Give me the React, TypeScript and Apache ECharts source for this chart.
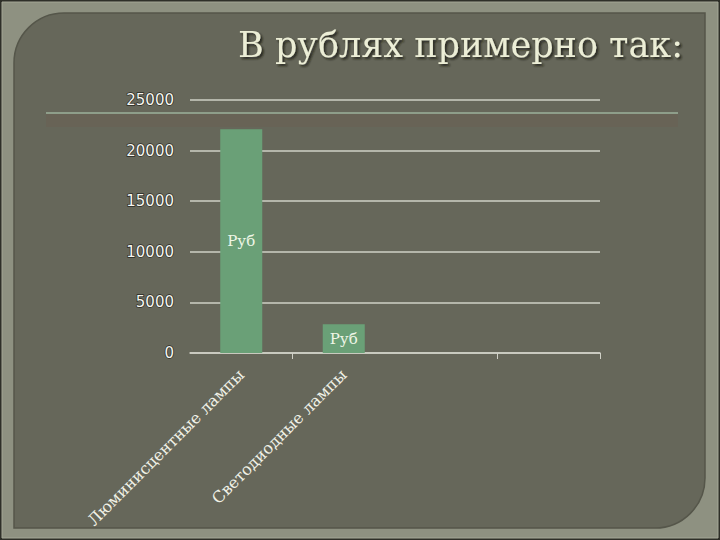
import React, { useEffect, useRef } from "react";
import * as echarts from "echarts";

const titleText = "В рублях примерно так:";
const categories = ["Люминисцентные лампы", "Светодиодные лампы", "", ""];
const values = [22100, 2850, null, null];
const barLabel = "Руб";
const yMin = 0;
const yMax = 25000;
const yStep = 5000;

export default function App() {
  const ref = useRef<HTMLDivElement>(null);
  useEffect(() => {
    if (!ref.current) return;
    const chart = echarts.init(ref.current, null, { renderer: "svg" });
    const lineColor = "#cfd0c6";
    chart.setOption({
      animation: false,
      backgroundColor: "#2e2f28",
      title: {
        text: titleText,
        right: 32,
        top: 22,
        textStyle: {
          fontFamily: "DejaVu Serif",
          fontWeight: "normal",
          fontSize: 35,
          color: "#eceed6",
          textShadowColor: "rgba(20,20,15,0.8)",
          textShadowOffsetX: 2,
          textShadowOffsetY: 2,
          textShadowBlur: 2,
        },
      },
      graphic: [
        {
          type: "rect",
          z: -20,
          silent: true,
          shape: { x: 2, y: 2, width: 716, height: 536 },
          style: { fill: "#8e9181", stroke: "#a4a796", lineWidth: 1 },
        },
        {
          type: "rect",
          z: -19,
          silent: true,
          shape: { x: 14, y: 13, width: 691, height: 515, r: [50, 0, 50, 0] },
          style: {
            fill: "#66675a",
            stroke: "#55564a",
            lineWidth: 1.5,
          },
        },
        {
          type: "rect",
          z: -18,
          silent: true,
          shape: { x: 46, y: 114, width: 632, height: 13 },
          style: { fill: "rgba(115,85,75,0.22)" },
        },
        {
          type: "line",
          z: -17,
          silent: true,
          shape: { x1: 46, y1: 113, x2: 678, y2: 113 },
          style: { stroke: "#8e9e8a", lineWidth: 2 },
        },
      ],
      grid: { left: 190, top: 100, width: 410, height: 253 },
      xAxis: {
        type: "category",
        data: categories,
        axisLine: { lineStyle: { color: lineColor, width: 1.5 } },
        axisTick: {
          show: true,
          length: 6,
          interval: (i: number) => i % 2 === 1,
          lineStyle: { color: lineColor },
        },
        axisLabel: {
          interval: 0,
          rotate: 45,
          margin: 19,
          fontFamily: "DejaVu Serif",
          fontSize: 16,
          color: "#f0f1e6",
        },
      },
      yAxis: {
        type: "value",
        min: yMin,
        max: yMax,
        interval: yStep,
        axisLine: { show: false },
        axisTick: { show: false },
        splitLine: { lineStyle: { color: lineColor, width: 1.5 } },
        axisLabel: {
          margin: 16,
          formatter: (v: number) => String(v),
          fontFamily: "DejaVu Sans",
          fontSize: 15,
          color: "#f6f6f0",
          textBorderColor: "#2a2a24",
          textBorderWidth: 1.5,
        },
      },
      series: [
        {
          type: "bar",
          data: values,
          barWidth: 42,
          itemStyle: { color: "#6aa077" },
          label: {
            show: true,
            position: "inside",
            formatter: barLabel,
            fontFamily: "DejaVu Serif",
            fontSize: 15,
            color: "#eef6e6",
          },
        },
      ],
    });
    return () => chart.dispose();
  }, []);
  return (
    <div
      ref={ref}
      style={{ position: "fixed", left: 0, top: 0, width: 720, height: 540 }}
    />
  );
}
